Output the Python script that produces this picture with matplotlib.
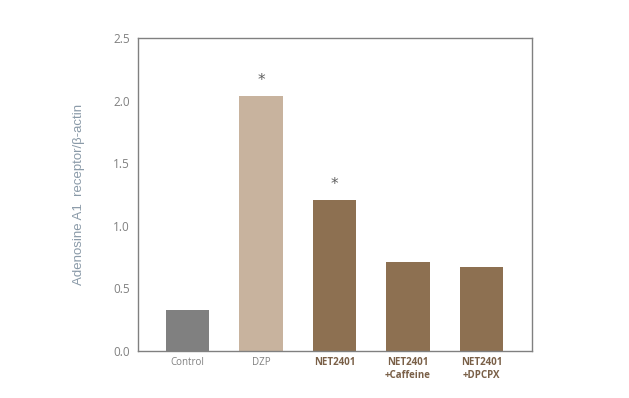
import numpy as np
import matplotlib.pyplot as plt

categories = ['Control', 'DZP', 'NET2401', 'NET2401\n+Caffeine', 'NET2401\n+DPCPX']
values = [0.33, 2.04, 1.21, 0.71, 0.67]
colors = ['#808080', '#c8b39e', '#8d7051', '#8d7051', '#8d7051']
stars = ['', '*', '*', '', '']

plt.rcParams['font.family'] = ['Open Sans', 'DejaVu Sans']

fig = plt.figure(figsize=(6.29, 3.98), dpi=100)
ax = fig.add_axes([0.2194, 0.1181, 0.6264, 0.7864])

x = np.arange(len(categories))
ax.bar(x, values, width=0.59, color=colors)

for i, s in enumerate(stars):
    if s:
        ax.text(x[i], values[i] + 0.12, s, ha='center', va='center', fontsize=11,
                color='#606060', family='DejaVu Sans')

ax.set_xlim(-0.673, 4.687)
ax.set_ylim(0, 2.5)
ax.set_yticks([0, 0.5, 1.0, 1.5, 2.0, 2.5])
ax.set_yticklabels(['0.0', '0.5', '1.0', '1.5', '2.0', '2.5'])
ax.set_xticks(x)
ax.set_xticklabels(categories)

for sp in ax.spines.values():
    sp.set_color('#808080')
    sp.set_linewidth(1.0)

ax.tick_params(axis='y', length=0, pad=6, labelsize=8.5, labelcolor='#808080')
ax.tick_params(axis='x', length=0, pad=4, labelsize=7)
for i, lab in enumerate(ax.get_xticklabels()):
    if i < 2:
        lab.set_color('#808080')
    else:
        lab.set_color('#7a6048')
        lab.set_fontweight('bold')
    lab.set_linespacing(1.3)

ax.set_ylabel('Adenosine A1  receptor/β-actin', fontsize=9.5, color='#8a9aa8',
              family='Liberation Sans', labelpad=20)

plt.savefig('out.png', dpi=100)
